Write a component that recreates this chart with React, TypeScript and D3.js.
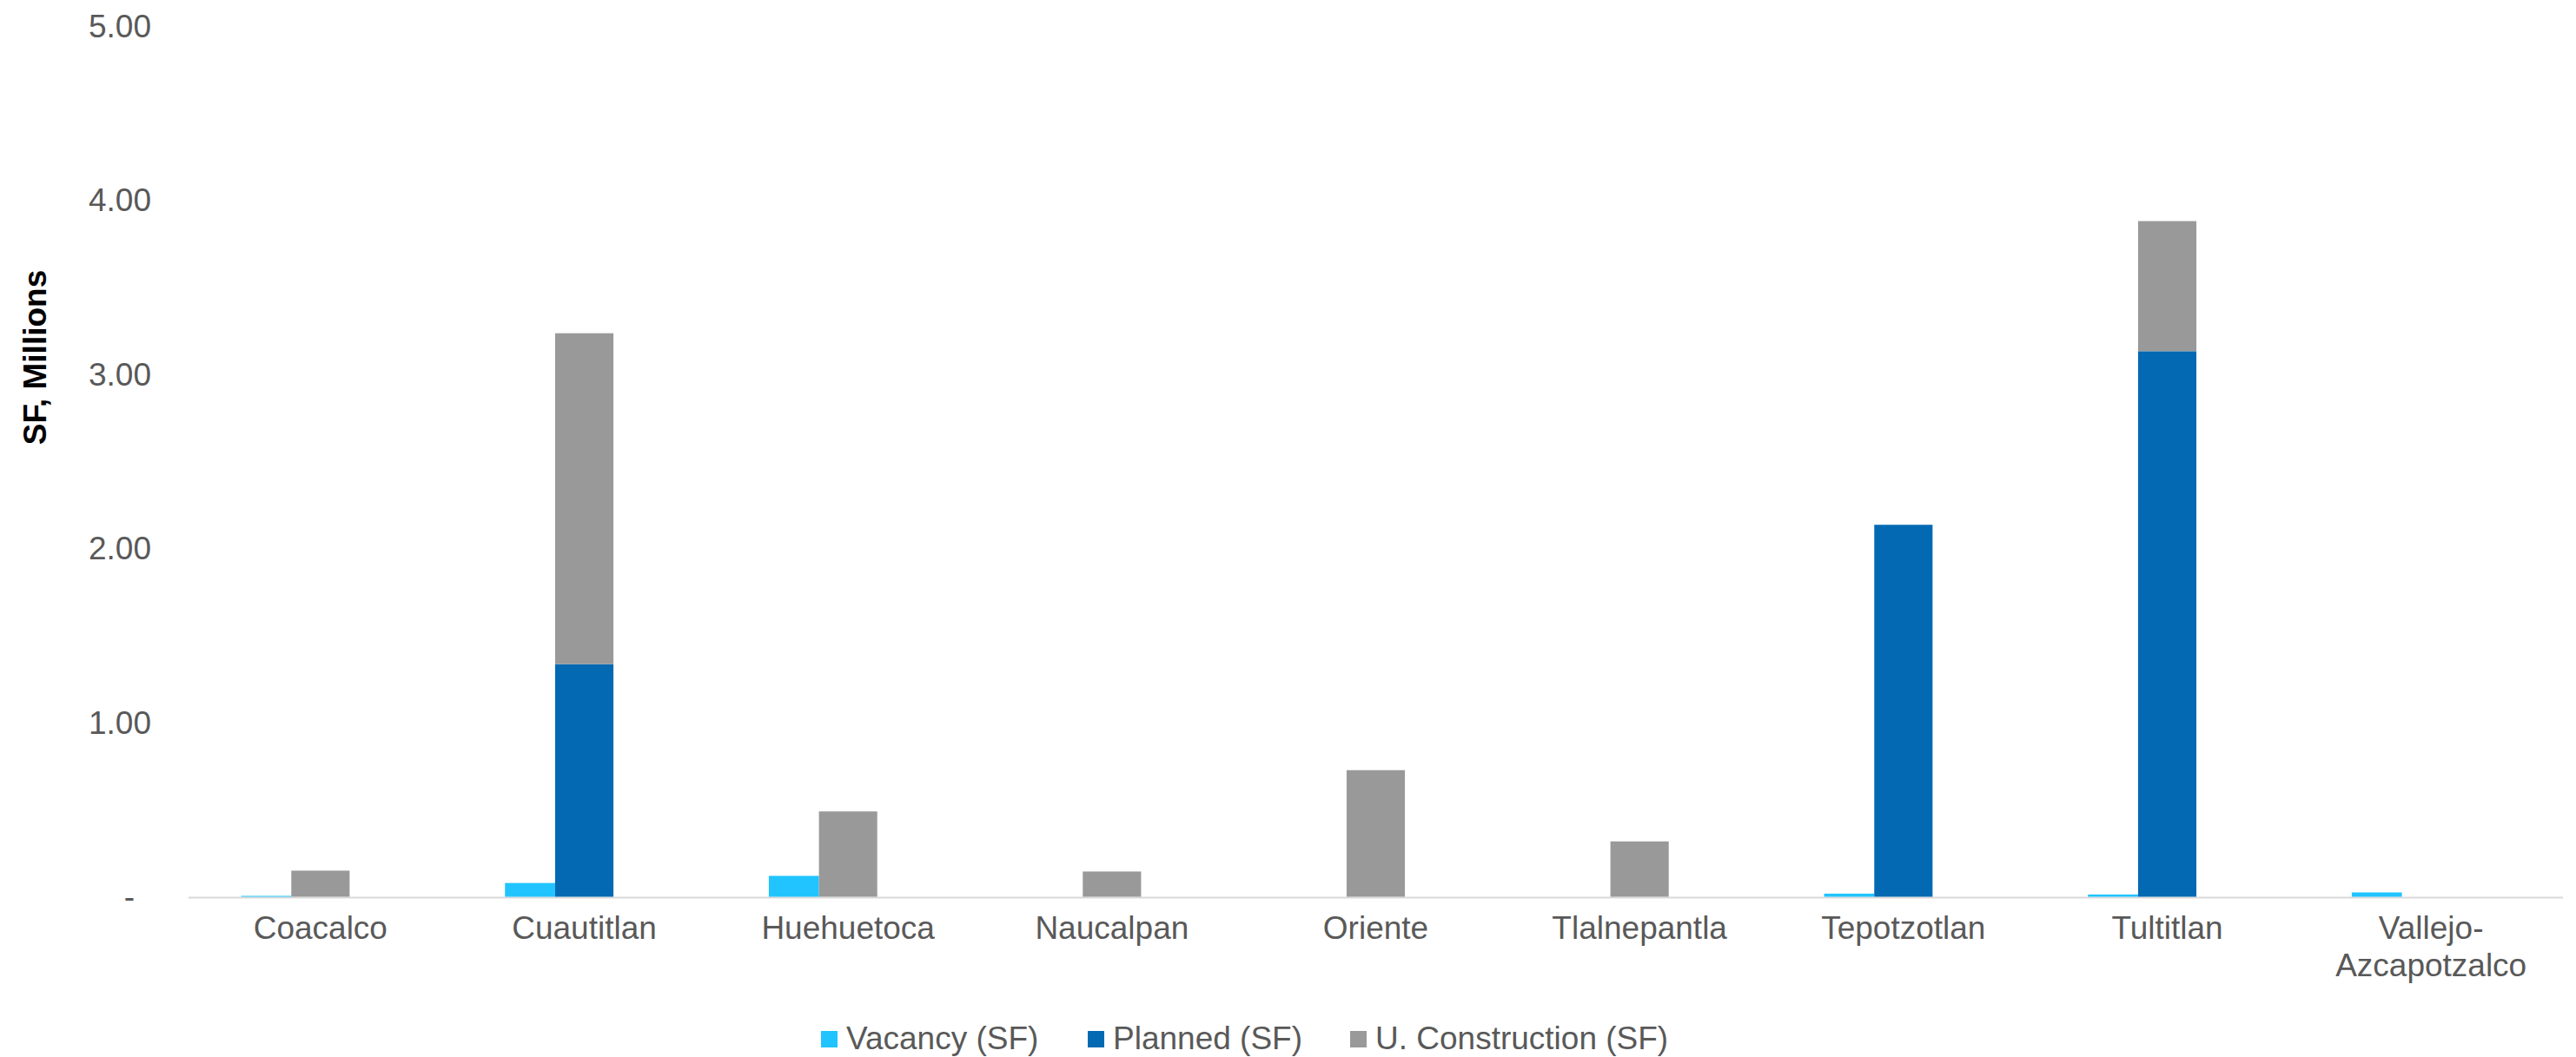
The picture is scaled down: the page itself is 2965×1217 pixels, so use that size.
import React, { useEffect, useRef } from "react";
import * as d3 from "d3";

const categories = [
  "Coacalco",
  "Cuautitlan",
  "Huehuetoca",
  "Naucalpan",
  "Oriente",
  "Tlalnepantla",
  "Tepotzotlan",
  "Tultitlan",
  "Vallejo-Azcapotzalco",
];
const categoryLines = [
  ["Coacalco"],
  ["Cuautitlan"],
  ["Huehuetoca"],
  ["Naucalpan"],
  ["Oriente"],
  ["Tlalnepantla"],
  ["Tepotzotlan"],
  ["Tultitlan"],
  ["Vallejo-", "Azcapotzalco"],
];
const vacancy = [0.005, 0.079, 0.12, 0, 0, 0, 0.018, 0.013, 0.025];
const planned = [0, 1.336, 0, 0, 0, 0, 2.136, 3.133, 0];
const construction = [0.15, 1.9, 0.49, 0.145, 0.727, 0.318, 0, 0.747, 0];
const yTicks = [0, 1, 2, 3, 4, 5];
const yTickLabels = ["-", "1.00", "2.00", "3.00", "4.00", "5.00"];
const seriesNames = ["Vacancy (SF)", "Planned (SF)", "U. Construction (SF)"];
const seriesColors = ["#21C4FE", "#0469B3", "#999999"];

const W = 2965;
const H = 1217;
const FONT = "'Liberation Sans', Arial, Helvetica, sans-serif";

export default function App() {
  const ref = useRef<SVGSVGElement | null>(null);

  useEffect(() => {
    const svg = d3.select(ref.current);
    svg.selectAll("*").remove();

    const x = d3.scaleBand<string>().domain(categories).range([217, 2950]).padding(0);
    const y = d3.scaleLinear().domain([0, 5]).range([1032.5, 30]);
    const bw = x.bandwidth();
    const stackW = bw * 0.221;
    const vacW = bw * 0.19;

    // axis line
    svg
      .append("line")
      .attr("x1", 217)
      .attr("x2", 2950)
      .attr("y1", y(0) + 1)
      .attr("y2", y(0) + 1)
      .attr("stroke", "#D9D9D9")
      .attr("stroke-width", 2);

    // y tick labels
    svg
      .append("g")
      .selectAll("text")
      .data(yTicks)
      .join("text")
      .attr("x", (d) => (d === 0 ? 155 : 174))
      .attr("y", (d) => y(d))
      .attr("dy", "0.35em")
      .attr("text-anchor", "end")
      .attr("font-family", FONT)
      .attr("font-size", 37)
      .attr("fill", "#595959")
      .text((d, i) => yTickLabels[i]);

    // y title
    svg
      .append("text")
      .attr("transform", "translate(53,411.5) rotate(-90)")
      .attr("text-anchor", "middle")
      .attr("font-family", FONT)
      .attr("font-weight", "bold")
      .attr("font-size", 37)
      .attr("fill", "#000")
      .text("SF, Millions");

    // stacked data
    const rows = categories.map((c, i) => ({
      cat: c,
      planned: planned[i],
      construction: construction[i],
    }));
    const stack = d3.stack<any>().keys(["planned", "construction"]);
    const stacked = stack(rows);

    const gBars = svg.append("g");
    // vacancy bars
    gBars
      .selectAll("rect.vac")
      .data(categories)
      .join("rect")
      .attr("class", "vac")
      .attr("x", (c) => (x(c) as number) + bw / 2 - stackW / 2 - vacW)
      .attr("width", vacW)
      .attr("y", (c, i) => y(vacancy[i]))
      .attr("height", (c, i) => y(0) - y(vacancy[i]))
      .attr("fill", seriesColors[0]);

    stacked.forEach((layer, li) => {
      gBars
        .append("g")
        .selectAll("rect")
        .data(layer)
        .join("rect")
        .attr("x", (d: any) => (x(d.data.cat) as number) + bw / 2 - stackW / 2)
        .attr("width", stackW)
        .attr("y", (d: any) => y(d[1]))
        .attr("height", (d: any) => y(d[0]) - y(d[1]))
        .attr("fill", seriesColors[li + 1]);
    });

    // category labels
    const gLab = svg.append("g");
    categories.forEach((c, i) => {
      const t = gLab
        .append("text")
        .attr("x", (x(c) as number) + bw / 2)
        .attr("y", 1081)
        .attr("text-anchor", "middle")
        .attr("font-family", FONT)
        .attr("font-size", 37)
        .attr("fill", "#595959");
      categoryLines[i].forEach((line, li) => {
        t.append("tspan")
          .attr("x", (x(c) as number) + bw / 2)
          .attr("dy", li === 0 ? 0 : 43)
          .text(line);
      });
    });

    // legend
    const legendX = [945, 1252, 1554];
    const gLeg = svg.append("g");
    seriesNames.forEach((name, i) => {
      gLeg
        .append("rect")
        .attr("x", legendX[i])
        .attr("y", 1187)
        .attr("width", 19)
        .attr("height", 19)
        .attr("fill", seriesColors[i]);
      gLeg
        .append("text")
        .attr("x", legendX[i] + 29)
        .attr("y", 1208)
        .attr("font-family", FONT)
        .attr("font-size", 37)
        .attr("fill", "#595959")
        .text(name);
    });
  }, []);

  return (
    <svg
      ref={ref}
      width={W}
      height={H}
      style={{ position: "absolute", left: 0, top: 0, background: "#fff" }}
    />
  );
}
